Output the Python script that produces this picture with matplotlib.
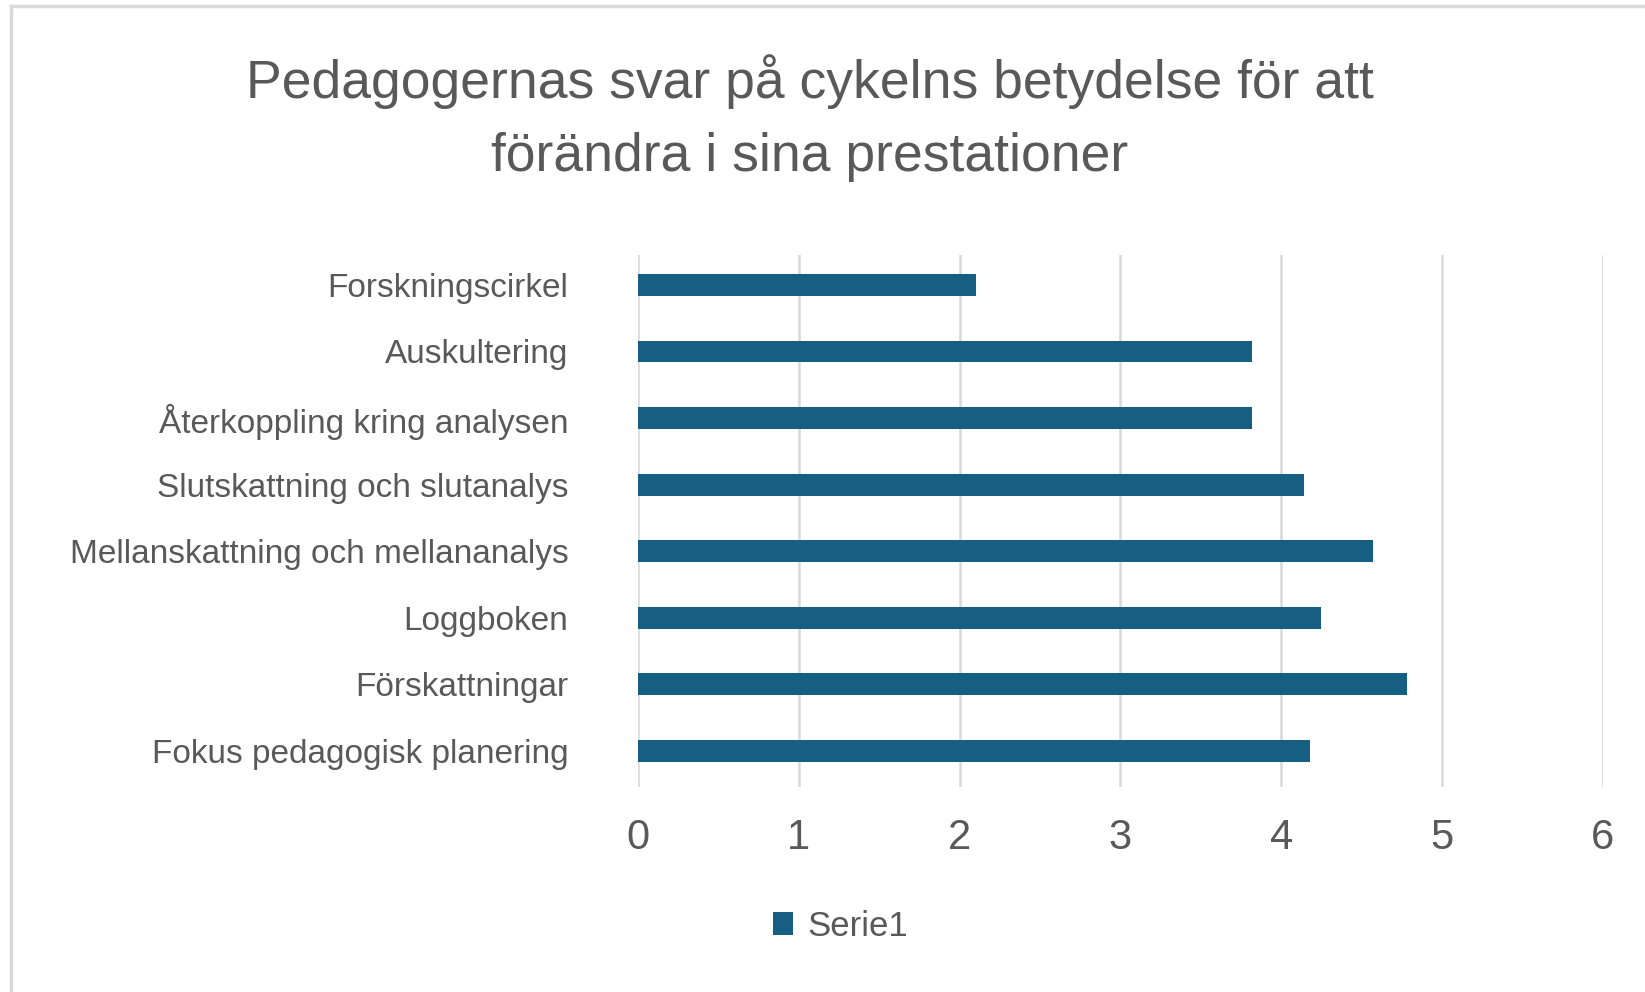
import matplotlib.pyplot as plt
from matplotlib.lines import Line2D
from matplotlib.patches import Patch

categories = ["Forskningscirkel", "Auskultering", "Återkoppling kring analysen",
              "Slutskattning och slutanalys", "Mellanskattning och mellananalys",
              "Loggboken", "Förskattningar", "Fokus pedagogisk planering"]
values = [2.1, 3.82, 3.82, 4.14, 4.57, 4.25, 4.78, 4.18]
xticks = [0, 1, 2, 3, 4, 5, 6]

fonts = ['Liberation Sans Narrow', 'Liberation Sans', 'DejaVu Sans']
plt.rcParams['font.family'] = fonts
grey = '#595959'
bar_color = '#175f82'

fig = plt.figure(figsize=[16.45, 9.92], dpi=100)
ax = fig.add_axes([0.3878, 0.2067, 0.5866, 0.5363])

ax.barh(range(len(categories)), values, height=0.33, color=bar_color, zorder=3)
ax.set_ylim(7.54, -0.45)
ax.set_xlim(0, 6)
ax.set_xticks(xticks)
ax.set_yticks(range(len(categories)))
ax.set_yticklabels(categories)
ax.grid(axis='x', color='#d9d9d9', linewidth=1.8, zorder=0)
for s in ax.spines.values():
    s.set_visible(False)
ax.tick_params(axis='x', length=0, pad=22, labelsize=30, labelcolor=grey)
ax.tick_params(axis='y', length=0, pad=50, labelsize=24, labelcolor=grey)

fig.text(0.4924, 1 - 82 / 992, "Pedagogernas svar på cykelns betydelse för att",
         ha='center', va='center', fontsize=38.5, color=grey)
fig.text(0.4924, 1 - 157 / 992, "förändra i sina prestationer",
         ha='center', va='center', fontsize=38.5, color=grey)

handle = Patch(facecolor=bar_color, edgecolor='none')
fig.legend([handle], ["Serie1"], loc='center', bbox_to_anchor=(0.511, 0.066),
           frameon=False, fontsize=25, labelcolor=grey,
           handlelength=0.58, handleheight=0.65, handletextpad=0.4)

# chart frame (left and top edges visible)
fig.add_artist(Line2D([11 / 1645, 11 / 1645], [0, 1 - 6 / 992], color='#d9d9d9', linewidth=2.5))
fig.add_artist(Line2D([11 / 1645, 1], [1 - 6 / 992, 1 - 6 / 992], color='#d9d9d9', linewidth=2.5))

fig.savefig("out.png", dpi=100, facecolor='white')
